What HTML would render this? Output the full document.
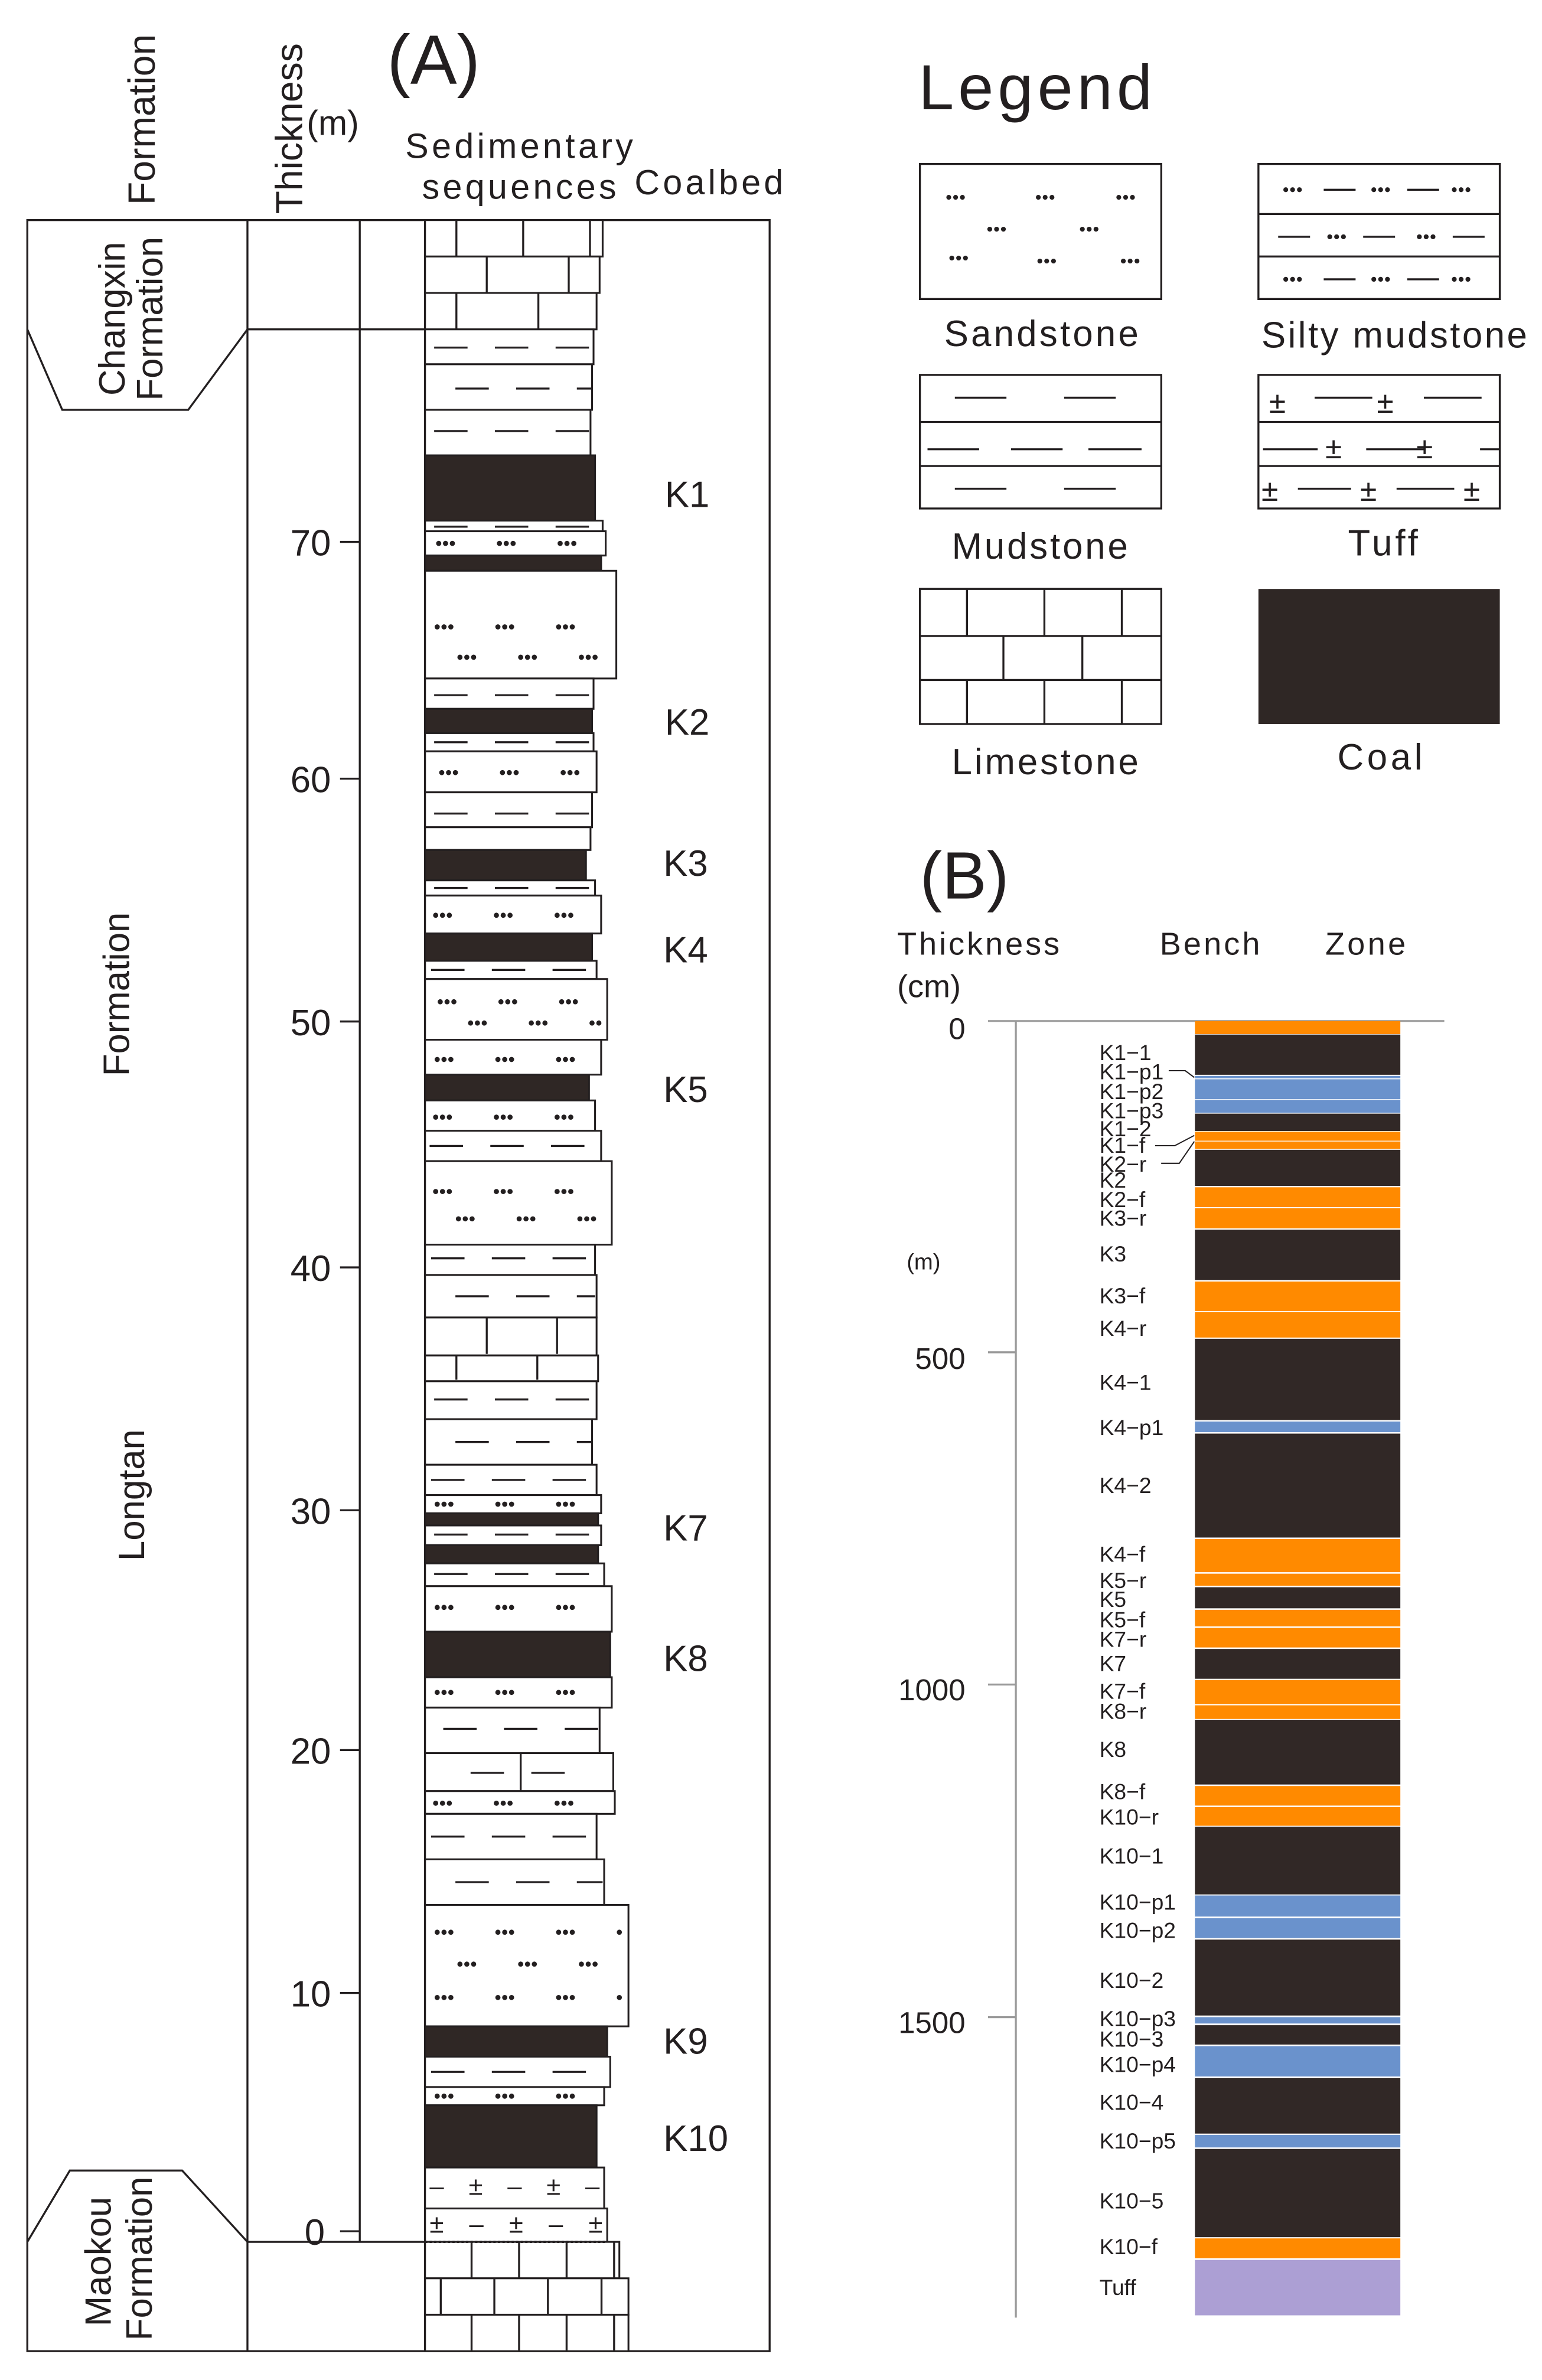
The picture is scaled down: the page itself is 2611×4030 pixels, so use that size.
<!DOCTYPE html>
<html><head><meta charset="utf-8"><style>
html,body{margin:0;padding:0;background:#fff}
svg{display:block}
text{font-family:"Liberation Sans",sans-serif;fill:#231f20}
.L{stroke:#231f20;stroke-width:1.3;fill:none}
.w{fill:#fff;stroke:#231f20;stroke-width:1.2}
.c{fill:#2f2725;stroke:#231f20;stroke-width:1.2}
.d{stroke:#231f20;stroke-width:3.4;stroke-linecap:round;stroke-dasharray:0 4.5 0 4.5 0 31;fill:none}
.dl{stroke:#231f20;stroke-width:3.2;stroke-linecap:round;stroke-dasharray:0 4.5;fill:none}
.m{stroke:#231f20;stroke-width:1.3;stroke-dasharray:22 18;fill:none}
.b{stroke:#231f20;fill:none}
.bl{font-size:14.6px}
</style></head><body>
<svg width="2611" height="4030" viewBox="0 0 1015.8 1568" preserveAspectRatio="none" xmlns="http://www.w3.org/2000/svg">

<!-- ===== Panel A ===== -->
<text x="255" y="55" font-size="46">(A)</text>
<text transform="translate(102,135) rotate(-90)" font-size="25">Formation</text>
<text transform="translate(199,141) rotate(-90)" font-size="25">Thickness</text>
<text x="202" y="89" font-size="23">(m)</text>
<text x="267" y="104" font-size="23" textLength="150">Sedimentary</text>
<text x="278" y="131" font-size="23" textLength="128">sequences</text>
<text x="418" y="128" font-size="23" textLength="98">Coalbed</text>

<rect x="18" y="145" width="489" height="1404" class="L"/>
<path class="L" d="M163 145V1549M237 145V1477M280 145V1549M163 217H280M163 1477H280"/>
<path class="L" d="M18 217L41 270H124L163 217"/>
<path class="L" d="M18 1477L46 1430H120L163 1477"/>
<text transform="translate(82,210) rotate(-90)" font-size="24" text-anchor="middle">Changxin</text>
<text transform="translate(107,210) rotate(-90)" font-size="24" text-anchor="middle">Formation</text>
<text transform="translate(85,655) rotate(-90)" font-size="24" text-anchor="middle">Formation</text>
<text transform="translate(95,985) rotate(-90)" font-size="24" text-anchor="middle">Longtan</text>
<text transform="translate(73,1490) rotate(-90)" font-size="24" text-anchor="middle">Maokou</text>
<text transform="translate(100,1488) rotate(-90)" font-size="24" text-anchor="middle">Formation</text>

<path class="L" d="M224 357H237M224 513H237M224 673H237M224 835H237M224 995H237M224 1153H237M224 1313H237M224 1470H237"/>
<g font-size="24" text-anchor="end">
<text x="218" y="366">70</text><text x="218" y="522">60</text><text x="218" y="682">50</text><text x="218" y="844">40</text>
<text x="218" y="1004">30</text><text x="218" y="1162">20</text><text x="218" y="1322">10</text><text x="214" y="1479">0</text>
</g>

<g>
<!-- limestone top -->
<rect x="280" y="145" width="117" height="24" class="w"/><path class="b" d="M280 157H397" stroke-width="23" stroke-dasharray="1.3 42.7" stroke-dashoffset="-20"/>
<rect x="280" y="169" width="115" height="24" class="w"/><path class="b" d="M280 181H395" stroke-width="23" stroke-dasharray="1.3 52.7" stroke-dashoffset="-40"/>
<rect x="280" y="193" width="113" height="24" class="w"/><path class="b" d="M280 205H393" stroke-width="23" stroke-dasharray="1.3 52.7" stroke-dashoffset="-20"/>
<rect x="280" y="217" width="111" height="23" class="w"/><path class="m" d="M286 229H390"/>
<rect x="280" y="240" width="110" height="30" class="w"/><path class="m" d="M300 256H390"/>
<rect x="280" y="270" width="109" height="30" class="w"/><path class="m" d="M286 284H389"/>
<rect x="280" y="300" width="112" height="43" class="c"/>
<rect x="280" y="343" width="117" height="7" class="w"/><path class="m" d="M286 347H396"/>
<rect x="280" y="350" width="119" height="16" class="w"/><path class="d" d="M289 358H398"/>
<rect x="280" y="366" width="116" height="10" class="c"/>
<rect x="280" y="376" width="126" height="71" class="w"/><path class="d" d="M288 413H400M303 433H400"/>
<rect x="280" y="447" width="111" height="20" class="w"/><path class="m" d="M286 458H390"/>
<rect x="280" y="467" width="110" height="16" class="c"/>
<rect x="280" y="483" width="111" height="12" class="w"/><path class="m" d="M286 489H390"/>
<rect x="280" y="495" width="113" height="27" class="w"/><path class="d" d="M291 509H392"/>
<rect x="280" y="522" width="110" height="23" class="w"/><path class="m" d="M286 536H390"/>
<rect x="280" y="545" width="109" height="15" class="w"/>
<rect x="280" y="560" width="106" height="20" class="c"/>
<rect x="280" y="580" width="112" height="10" class="w"/><path class="m" d="M286 585H390"/>
<rect x="280" y="590" width="116" height="25" class="w"/><path class="d" d="M287 603H395"/>
<rect x="280" y="615" width="110" height="18" class="c"/>
<rect x="280" y="633" width="113" height="12" class="w"/><path class="m" d="M284 639H392"/>
<rect x="280" y="645" width="120" height="40" class="w"/><path class="d" d="M290 660H399M310 674H399"/>
<rect x="280" y="685" width="116" height="23" class="w"/><path class="d" d="M288 698H395"/>
<rect x="280" y="708" width="108" height="17" class="c"/>
<rect x="280" y="725" width="112" height="20" class="w"/><path class="d" d="M287 736H391"/>
<rect x="280" y="745" width="116" height="20" class="w"/><path class="m" d="M283 755H395"/>
<rect x="280" y="765" width="123" height="55" class="w"/><path class="d" d="M287 785H402M302 803H402"/>
<rect x="280" y="820" width="112" height="20" class="w"/><path class="m" d="M284 829H391"/>
<rect x="280" y="840" width="113" height="28" class="w"/><path class="m" d="M300 854H392"/>
<rect x="280" y="868" width="113" height="25" class="w"/><path class="b" d="M280 880H393" stroke-width="24" stroke-dasharray="1.3 45" stroke-dashoffset="-40"/>
<rect x="280" y="893" width="114" height="17" class="w"/><path class="b" d="M280 901H394" stroke-width="16" stroke-dasharray="1.3 52" stroke-dashoffset="-20"/>
<rect x="280" y="910" width="113" height="25" class="w"/><path class="m" d="M286 922H392"/>
<rect x="280" y="935" width="110" height="30" class="w"/><path class="m" d="M300 950H390"/>
<rect x="280" y="965" width="113" height="20" class="w"/><path class="m" d="M284 975H392"/>
<rect x="280" y="985" width="116" height="12" class="w"/><path class="d" d="M288 991H395"/>
<rect x="280" y="997" width="114" height="8" class="c"/>
<rect x="280" y="1005" width="116" height="13" class="w"/><path class="m" d="M286 1011H395"/>
<rect x="280" y="1018" width="114" height="12" class="c"/>
<rect x="280" y="1030" width="118" height="15" class="w"/><path class="m" d="M286 1037H397"/>
<rect x="280" y="1045" width="123" height="30" class="w"/><path class="d" d="M288 1059H402"/>
<rect x="280" y="1075" width="122" height="30" class="c"/>
<rect x="280" y="1105" width="123" height="20" class="w"/><path class="d" d="M288 1115H402"/>
<rect x="280" y="1125" width="115" height="30" class="w"/><path class="m" d="M292 1139H394"/>
<rect x="280" y="1155" width="124" height="25" class="w"/><path class="m" d="M310 1168H390"/><path class="L" d="M343 1155V1180"/>
<rect x="280" y="1180" width="125" height="15" class="w"/><path class="d" d="M287 1188H404"/>
<rect x="280" y="1195" width="113" height="30" class="w"/><path class="m" d="M284 1210H392"/>
<rect x="280" y="1225" width="118" height="30" class="w"/><path class="m" d="M300 1240H397"/>
<rect x="280" y="1255" width="134" height="80" class="w"/><path class="d" d="M288 1273H410M303 1294H410M288 1316H410"/>
<rect x="280" y="1335" width="120" height="20" class="c"/>
<rect x="280" y="1355" width="122" height="20" class="w"/><path class="m" d="M284 1365H401"/>
<rect x="280" y="1375" width="118" height="12" class="w"/><path class="d" d="M288 1381H397"/>
<rect x="280" y="1387" width="113" height="41" class="c"/>
<rect x="280" y="1428" width="118" height="27" class="w"/>
<text x="283" y="1446" font-size="17" textLength="112">–±–±–</text>
<rect x="280" y="1455" width="120" height="22" class="w"/>
<text x="283" y="1471" font-size="17" textLength="114">±–±–±</text>
<rect x="280" y="1477" width="128" height="24" class="w"/><path class="b" d="M280 1489H408" stroke-width="23" stroke-dasharray="1.3 30" stroke-dashoffset="-30"/>
<rect x="280" y="1501" width="134" height="24" class="w"/><path class="b" d="M280 1513H414" stroke-width="23" stroke-dasharray="1.3 34" stroke-dashoffset="-45"/>
<rect x="280" y="1525" width="134" height="24" class="w"/><path class="b" d="M280 1537H414" stroke-width="23" stroke-dasharray="1.3 30" stroke-dashoffset="-30"/>
<path d="M280 1477H400" stroke="#231f20" stroke-width="1.5" stroke-dasharray="1.5 1.5"/>
</g>
<g font-size="24">
<text x="438" y="334">K1</text><text x="438" y="484">K2</text><text x="437" y="577">K3</text><text x="437" y="634">K4</text>
<text x="437" y="726">K5</text><text x="437" y="1015">K7</text><text x="437" y="1101">K8</text><text x="437" y="1353">K9</text><text x="437" y="1417">K10</text>
</g>

<!-- ===== Legend ===== -->
<text x="605" y="72" font-size="42" textLength="154">Legend</text>
<rect x="606" y="108" width="159" height="89" class="L"/>
<rect x="829" y="108" width="159" height="89" class="L"/>
<rect x="606" y="247" width="159" height="88" class="L"/>
<rect x="829" y="247" width="159" height="88" class="L"/>
<rect x="606" y="388" width="159" height="89" class="L"/>
<rect x="829" y="388" width="159" height="89" fill="#2f2725"/>
<path class="dl" d="M625 130h9.5M684 130h9.5M737 130h9.5M652 151h9.5M713 151h9.5M627 170h9.5M685 172h9.5M740 172h9.5
M847 125h9.5M905 125h9.5M958 125h9.5M876 156h9.5M935 156h9.5M847 184h9.5M905 184h9.5M958 184h9.5"/>
<path class="L" d="M829 141H988M829 169H988M872 125H893M927 125H948M842 156H863M898 156H919M957 156H978M872 184H893M927 184H948"/>
<path class="L" d="M606 278H765M606 307H765M629 262H663M701 262H735M611 296H645M666 296H700M717 296H752M629 322H663M701 322H735"/>
<path class="L" d="M829 278H988M829 307H988M866 262H904M938 262H976M832 296H868M900 296H938M975 296H988M855 322H890M920 322H958"/>
<g font-size="20"><text x="836" y="272">±</text><text x="907" y="272">±</text><text x="873" y="302">±</text><text x="933" y="302">±</text><text x="831" y="330">±</text><text x="896" y="330">±</text><text x="964" y="330">±</text></g>
<path class="L" d="M606 419H765M606 448H765M637 388V419M688 388V419M739 388V419M661 419V448M713 419V448M637 448V477M688 448V477M739 448V477"/>
<g font-size="24">
<text x="622" y="228" textLength="128">Sandstone</text>
<text x="831" y="229" textLength="175">Silty mudstone</text>
<text x="627" y="368" textLength="116">Mudstone</text>
<text x="888" y="366" textLength="46">Tuff</text>
<text x="627" y="510" textLength="123">Limestone</text>
<text x="881" y="507" textLength="56">Coal</text>
</g>

<!-- ===== Panel B ===== -->
<text x="606" y="592" font-size="44">(B)</text>
<g font-size="21"><text x="591" y="629" textLength="107">Thickness</text><text x="591" y="657">(cm)</text><text x="764" y="629" textLength="66">Bench</text><text x="873" y="629" textLength="53">Zone</text></g>

<g transform="scale(0.99213)">
<path d="M656 678H959M674.5 678V1539M656 898H674.5M656 1118.6H674.5M656 1339.5H674.5" stroke="#9a9a9a" stroke-width="1.3" fill="none"/>
<g font-size="20" text-anchor="end"><text x="641" y="690">0</text><text x="641" y="909">500</text><text x="641" y="1129">1000</text><text x="641" y="1350">1500</text></g>
<text x="602" y="843" font-size="15">(m)</text>
<g>
<rect x="793.4" y="678" width="136.4" height="8.7" fill="#ff8a00"/>
<rect x="793.4" y="687" width="136.4" height="26.7" fill="#312826"/>
<rect x="793.4" y="714.5" width="136.4" height="1.6" fill="#6a92cc"/>
<rect x="793.4" y="716.7" width="136.4" height="13.2" fill="#6a92cc"/>
<rect x="793.4" y="730.5" width="136.4" height="8.5" fill="#6a92cc"/>
<rect x="793.4" y="739.5" width="136.4" height="11.5" fill="#312826"/>
<rect x="793.4" y="751.5" width="136.4" height="6" fill="#ff8a00"/>
<rect x="793.4" y="758" width="136.4" height="5" fill="#ff8a00"/>
<rect x="793.4" y="763.5" width="136.4" height="24" fill="#312826"/>
<rect x="793.4" y="788.4" width="136.4" height="13.2" fill="#ff8a00"/>
<rect x="793.4" y="802.3" width="136.4" height="13.4" fill="#ff8a00"/>
<rect x="793.4" y="816.6" width="136.4" height="33.4" fill="#312826"/>
<rect x="793.4" y="851" width="136.4" height="19.6" fill="#ff8a00"/>
<rect x="793.4" y="871.2" width="136.4" height="17" fill="#ff8a00"/>
<rect x="793.4" y="889" width="136.4" height="54" fill="#312826"/>
<rect x="793.4" y="944" width="136.4" height="7" fill="#6a92cc"/>
<rect x="793.4" y="952" width="136.4" height="69" fill="#312826"/>
<rect x="793.4" y="1022" width="136.4" height="22" fill="#ff8a00"/>
<rect x="793.4" y="1045" width="136.4" height="8" fill="#ff8a00"/>
<rect x="793.4" y="1054" width="136.4" height="14" fill="#312826"/>
<rect x="793.4" y="1069" width="136.4" height="11" fill="#ff8a00"/>
<rect x="793.4" y="1081" width="136.4" height="13" fill="#ff8a00"/>
<rect x="793.4" y="1095" width="136.4" height="19.8" fill="#312826"/>
<rect x="793.4" y="1115.6" width="136.4" height="16" fill="#ff8a00"/>
<rect x="793.4" y="1132.4" width="136.4" height="9.1" fill="#ff8a00"/>
<rect x="793.4" y="1142" width="136.4" height="43" fill="#312826"/>
<rect x="793.4" y="1186" width="136.4" height="13" fill="#ff8a00"/>
<rect x="793.4" y="1200" width="136.4" height="12.4" fill="#ff8a00"/>
<rect x="793.4" y="1213" width="136.4" height="45" fill="#312826"/>
<rect x="793.4" y="1258.7" width="136.4" height="14" fill="#6a92cc"/>
<rect x="793.4" y="1273.8" width="136.4" height="13.2" fill="#6a92cc"/>
<rect x="793.4" y="1288" width="136.4" height="50.4" fill="#312826"/>
<rect x="793.4" y="1339.5" width="136.4" height="4.2" fill="#6a92cc"/>
<rect x="793.4" y="1344.8" width="136.4" height="12.9" fill="#312826"/>
<rect x="793.4" y="1358.8" width="136.4" height="20.1" fill="#6a92cc"/>
<rect x="793.4" y="1380" width="136.4" height="36.8" fill="#312826"/>
<rect x="793.4" y="1417.7" width="136.4" height="8.3" fill="#6a92cc"/>
<rect x="793.4" y="1427" width="136.4" height="58.6" fill="#312826"/>
<rect x="793.4" y="1486.4" width="136.4" height="13.2" fill="#ff8a00"/>
<rect x="793.4" y="1500.7" width="136.4" height="36.8" fill="#ac9fd4"/>
</g>
<path d="M776 711H787L793 715.5M767 760.8H780L793 754M771 772.5H783L793 758" stroke="#231f20" stroke-width="0.8" fill="none"/>
<g class="bl">
<text x="730" y="704">K1−1</text><text x="730" y="716.7">K1−p1</text><text x="730" y="729.9">K1−p2</text><text x="730" y="742.5">K1−p3</text>
<text x="730" y="754.5">K1−2</text><text x="730" y="765.6">K1−f</text><text x="730" y="778">K2−r</text><text x="730" y="788.7">K2</text>
<text x="730" y="801.6">K2−f</text><text x="730" y="814">K3−r</text><text x="730" y="837.6">K3</text><text x="730" y="865.5">K3−f</text>
<text x="730" y="887">K4−r</text><text x="730" y="923">K4−1</text><text x="730" y="953">K4−p1</text><text x="730" y="991.5">K4−2</text>
<text x="730" y="1037">K4−f</text><text x="730" y="1054.5">K5−r</text><text x="730" y="1067">K5</text><text x="730" y="1080.6">K5−f</text>
<text x="730" y="1093.5">K7−r</text><text x="730" y="1109.6">K7</text><text x="730" y="1128">K7−f</text><text x="730" y="1141.5">K8−r</text>
<text x="730" y="1166.8">K8</text><text x="730" y="1194.8">K8−f</text><text x="730" y="1211.6">K10−r</text><text x="730" y="1237.5">K10−1</text>
<text x="730" y="1268">K10−p1</text><text x="730" y="1287">K10−p2</text><text x="730" y="1320">K10−2</text><text x="730" y="1345.6">K10−p3</text>
<text x="730" y="1359">K10−3</text><text x="730" y="1376">K10−p4</text><text x="730" y="1401">K10−4</text><text x="730" y="1426.7">K10−p5</text>
<text x="730" y="1466.6">K10−5</text><text x="730" y="1497">K10−f</text><text x="730" y="1524">Tuff</text>
</g>
</g>
</svg>
</body></html>
